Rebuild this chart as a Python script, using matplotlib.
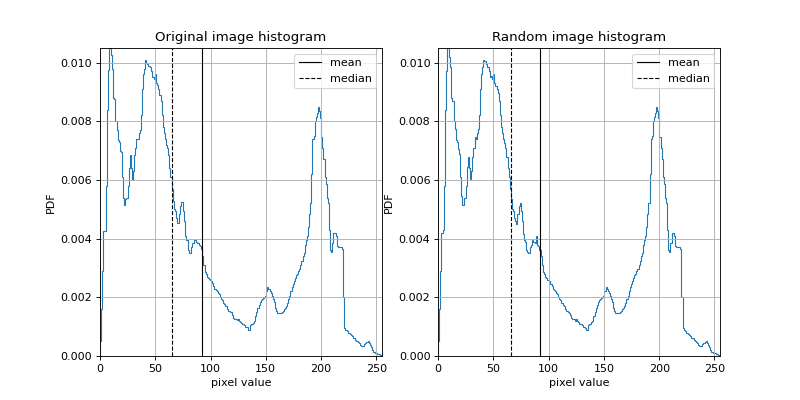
import numpy as np
import matplotlib
matplotlib.use("Agg")
import matplotlib.pyplot as plt

# histogram values (units of 1e-3), 256 bins
orig_hist = [
    0.5, 1.6, 2.9, 4.25, 4.25, 5.8, 8.4, 9.75, 10.55, 10.5,
    10.25, 9.8, 8.8, 8.75, 8.0, 7.7, 7.35, 7.3, 7.0, 6.95,
    6.1, 5.4, 5.15, 5.35, 5.4, 5.8, 6.4, 6.85, 6.4, 6.0,
    6.3, 6.85, 7.1, 7.4, 7.4, 7.6, 7.7, 8.2, 9.1, 9.6,
    9.8, 10.1, 10.0, 9.95, 9.9, 9.85, 9.7, 9.5, 9.5, 9.45,
    9.6, 9.3, 9.25, 9.1, 8.9, 8.7, 8.2, 7.8, 7.6, 7.4,
    7.2, 7.1, 6.85, 6.4, 6.1, 5.7, 5.3, 5.0, 4.95, 4.7,
    4.55, 4.55, 4.85, 5.1, 5.25, 4.95, 4.6, 4.1, 3.95, 3.95,
    3.6, 3.5, 3.5, 3.7, 3.85, 3.95, 3.95, 3.9, 3.85, 3.85,
    3.8, 3.75, 3.65, 3.4, 3.1, 2.85, 2.8, 2.7, 2.65, 2.62,
    2.6, 2.55, 2.5, 2.4, 2.3, 2.25, 2.2, 2.15, 2.12, 2.0,
    1.95, 1.9, 1.8, 1.78, 1.7, 1.6, 1.55, 1.55, 1.5, 1.5,
    1.4, 1.3, 1.27, 1.25, 1.22, 1.25, 1.18, 1.15, 1.12, 1.1,
    1.1, 1.05, 1.0, 1.0, 0.9, 0.88, 1.05, 1.08, 1.1, 1.12,
    1.2, 1.35, 1.5, 1.65, 1.75, 1.85, 1.9, 1.95, 1.97, 2.0,
    2.05, 2.2, 2.35, 2.3, 2.2, 2.15, 2.05, 1.95, 1.85, 1.65,
    1.55, 1.48, 1.45, 1.45, 1.48, 1.5, 1.55, 1.6, 1.65, 1.7,
    1.8, 1.95, 2.05, 2.2, 2.35, 2.45, 2.55, 2.65, 2.75, 2.8,
    2.9, 2.95, 3.1, 3.25, 3.4, 3.5, 3.8, 3.95, 4.1, 4.4,
    4.85, 5.2, 6.2, 7.4, 7.5, 8.0, 8.15, 8.3, 8.5, 8.35,
    8.1, 7.45, 7.1, 6.7, 6.1, 5.85, 5.4, 5.2, 4.3, 3.6,
    3.55, 3.85, 4.2, 4.2, 4.1, 3.75, 3.7, 3.7, 3.7, 3.7,
    3.65, 2.0, 0.95, 0.9, 0.85, 0.8, 0.78, 0.75, 0.7, 0.68,
    0.62, 0.6, 0.55, 0.52, 0.48, 0.45, 0.38, 0.35, 0.33, 0.35,
    0.4, 0.45, 0.48, 0.5, 0.45, 0.38, 0.3, 0.22, 0.15, 0.12,
    0.1, 0.1, 0.08, 0.06, 0.05, 0.05,
]

rand_hist = [
    0.5, 1.6, 2.9, 4.2, 4.3, 5.8, 8.4, 9.7, 10.55, 10.5,
    10.2, 9.85, 8.8, 8.7, 8.0, 7.75, 7.35, 7.3, 7.05, 6.9,
    6.1, 5.45, 5.15, 5.4, 5.4, 5.8, 6.45, 6.8, 6.4, 6.05,
    6.3, 6.8, 7.1, 7.45, 7.4, 7.6, 7.75, 8.2, 9.1, 9.6,
    9.85, 10.1, 10.05, 9.95, 9.85, 9.85, 9.7, 9.5, 9.55, 9.45,
    9.6, 9.3, 9.2, 9.1, 8.95, 8.7, 8.2, 7.8, 7.6, 7.4,
    7.25, 7.1, 6.8, 6.4, 6.1, 5.7, 5.35, 5.0, 4.95, 4.7,
    4.6, 4.5, 4.85, 5.1, 5.2, 4.95, 4.6, 4.15, 3.95, 3.9,
    3.6, 3.55, 3.5, 3.7, 3.8, 3.95, 3.9, 3.9, 3.85, 4.1,
    3.8, 3.75, 3.6, 3.4, 3.1, 2.85, 2.8, 2.7, 2.65, 2.6,
    2.6, 2.55, 2.45, 2.4, 2.3, 2.25, 2.2, 2.15, 2.1, 2.0,
    1.95, 1.9, 1.8, 1.75, 1.7, 1.6, 1.55, 1.55, 1.5, 1.45,
    1.4, 1.3, 1.27, 1.25, 1.2, 1.25, 1.18, 1.15, 1.1, 1.1,
    1.1, 1.05, 1.0, 0.95, 0.9, 0.88, 1.05, 1.08, 1.1, 1.15,
    1.2, 1.35, 1.5, 1.65, 1.75, 1.85, 1.9, 1.95, 1.97, 2.0,
    2.05, 2.2, 2.35, 2.3, 2.2, 2.15, 2.05, 1.95, 1.85, 1.65,
    1.55, 1.48, 1.45, 1.45, 1.48, 1.5, 1.55, 1.6, 1.65, 1.7,
    1.8, 1.95, 2.05, 2.2, 2.35, 2.45, 2.55, 2.65, 2.75, 2.8,
    2.9, 2.95, 3.1, 3.25, 3.4, 3.5, 3.8, 3.95, 4.1, 4.4,
    4.85, 5.2, 6.2, 7.4, 7.5, 8.0, 8.15, 8.3, 8.5, 8.35,
    8.1, 7.45, 7.1, 6.7, 6.1, 5.85, 5.4, 5.2, 4.3, 3.6,
    3.55, 3.85, 4.2, 4.2, 4.1, 3.75, 3.7, 3.7, 3.7, 3.7,
    3.65, 2.0, 0.95, 0.9, 0.85, 0.8, 0.78, 0.75, 0.7, 0.68,
    0.62, 0.6, 0.55, 0.52, 0.48, 0.45, 0.38, 0.35, 0.33, 0.35,
    0.4, 0.45, 0.48, 0.5, 0.45, 0.38, 0.3, 0.22, 0.15, 0.12,
    0.1, 0.1, 0.08, 0.06, 0.05, 0.05,
]

titles = ["Original image histogram", "Random image histogram"]
mean_val = 92.3
median_val = 65.5

edges = np.linspace(0, 255, 257)

fig = plt.figure(figsize=(10, 5), dpi=80)

for i, (hist, title) in enumerate(zip([orig_hist, rand_hist], titles)):
    ax = fig.add_subplot(1, 2, i + 1)
    ax.stairs(np.array(hist) * 1e-3, edges, color="C0", linewidth=1)
    ax.axvline(mean_val, color="k", linestyle="-", linewidth=1, label="mean")
    ax.axvline(median_val, color="k", linestyle="--", linewidth=1, label="median")
    ax.set_xlim(0, 255)
    ax.set_ylim(0, 0.0105)
    ax.set_yticks(np.arange(0, 0.0101, 0.002))
    ax.grid(True)
    ax.legend(loc="upper right")
    ax.set_title(title)
    ax.set_xlabel("pixel value")
    ax.set_ylabel("PDF")

plt.savefig("out.png", dpi=80)
